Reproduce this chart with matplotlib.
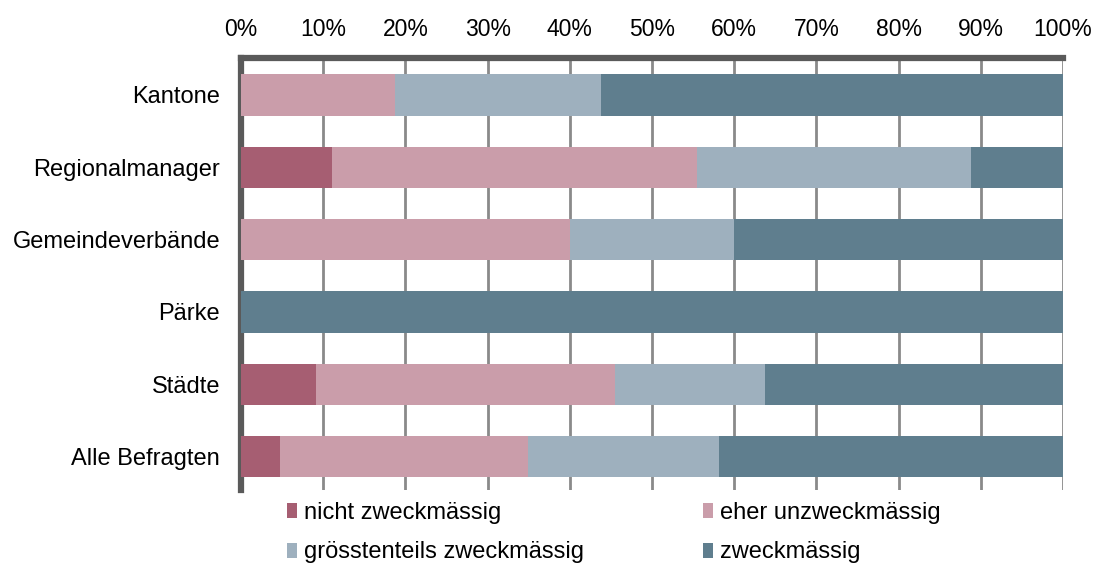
import matplotlib.pyplot as plt
from matplotlib.patches import Patch
from matplotlib.ticker import PercentFormatter

plt.rcParams['font.family'] = ['Liberation Sans', 'DejaVu Sans']

# Data (shares in %)
categories = ["Kantone", "Regionalmanager", "Gemeindeverbände", "Pärke", "Städte", "Alle Befragten"]
series_names = ["nicht zweckmässig", "eher unzweckmässig", "grösstenteils zweckmässig", "zweckmässig"]
nicht = [0.0, 11.1, 0.0, 0.0, 9.1, 4.7]
eher = [18.75, 44.4, 40.0, 0.0, 36.4, 30.2]
groesstenteils = [25.0, 33.3, 20.0, 0.0, 18.2, 23.3]
zweck = [56.25, 11.2, 40.0, 100.0, 36.3, 41.8]
colors = ["#A65E72", "#CA9DAA", "#9EB0BE", "#5F7E8E"]

fig = plt.figure(figsize=(10.97, 5.65), dpi=100)
ax = fig.add_axes([241 / 1097, 1 - 490 / 565, 822 / 1097, 432 / 565])

y = list(range(len(categories)))
left = [0.0] * len(categories)
for vals, col, name in zip([nicht, eher, groesstenteils, zweck], colors, series_names):
    ax.barh(y, vals, left=left, height=0.57, color=col, edgecolor="none", label=name, zorder=3)
    left = [l + v for l, v in zip(left, vals)]

ax.set_xlim(0, 100)
ax.set_ylim(5.46, -0.51)
ax.set_yticks(y)
ax.set_yticklabels(categories, fontsize=17)
ax.xaxis.tick_top()
ax.set_xticks(range(0, 101, 10))
ax.xaxis.set_major_formatter(PercentFormatter(decimals=0))
ax.tick_params(axis="x", length=0, pad=12, labelsize=16.5)
ax.tick_params(axis="y", length=0, pad=15)

ax.grid(axis="x", color="#8a8a8a", linewidth=2, zorder=1)
for s in ["right", "bottom"]:
    ax.spines[s].set_visible(False)
for s in ["top", "left"]:
    ax.spines[s].set_color("#5a5a5a")
    ax.spines[s].set_linewidth(4.5)

# legend rows: (nicht, eher), (grösstenteils, zweck) -> column-major order
handles = [Patch(facecolor=c, edgecolor="none") for c in colors]
order = [0, 2, 1, 3]
fig.legend([handles[i] for i in order], [series_names[i] for i in order], ncol=2, loc="upper left",
           bbox_to_anchor=(287 / 1097, 1 - 502 / 565), frameon=False,
           fontsize=17, handlelength=0.42, handleheight=0.6, handletextpad=0.3,
           columnspacing=5.05, labelspacing=0.74, borderpad=0, borderaxespad=0)

fig.savefig("out.png", dpi=100)
